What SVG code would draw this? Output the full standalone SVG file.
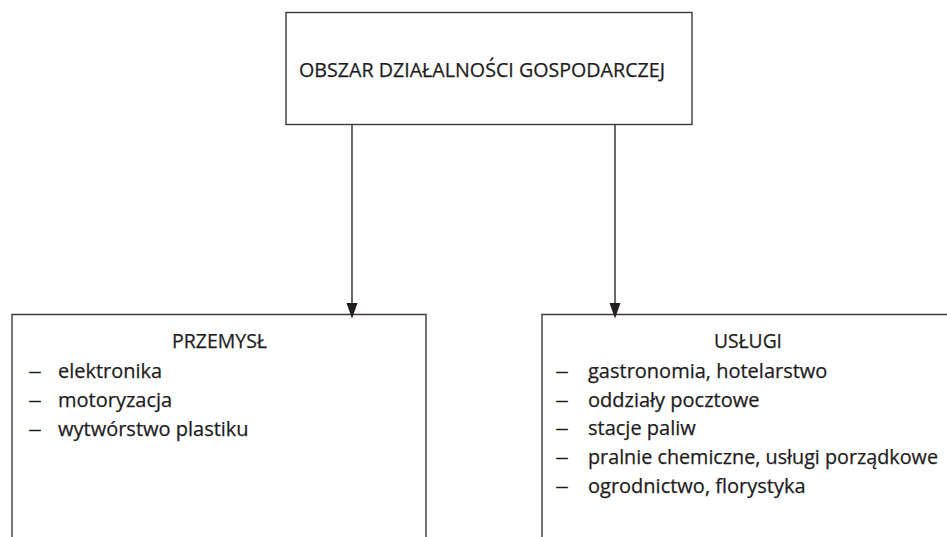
<svg xmlns="http://www.w3.org/2000/svg" width="947" height="537" viewBox="0 0 947 537">
<style>
.box{fill:#fff;stroke:#3a3a3a;stroke-width:1.4}
.t{font-family:"Open Sans","Noto Sans","Liberation Sans",sans-serif;font-size:20px;fill:#1e1c1d;stroke:#1e1c1d;stroke-width:0.25}
.d{font-family:"Open Sans","Noto Sans","Liberation Sans",sans-serif;font-size:20px;fill:#1e1c1d}
.c{stroke:#2a2a2a;stroke-width:1.4;fill:none}
.ah{fill:#231f20}
</style>
<rect width="947" height="537" fill="#fff"/>
<g id="top">
<rect class="box" x="286" y="12.5" width="406" height="112"/>
<text class="t" x="299" y="76.5" textLength="366" lengthAdjust="spacingAndGlyphs">OBSZAR DZIAŁALNOŚCI GOSPODARCZEJ</text>
</g>
<g id="przemysl">
<path class="box" d="M12,540 V314.5 H426 V540"/>
<text class="t" x="172" y="348" textLength="95" lengthAdjust="spacingAndGlyphs">PRZEMYSŁ</text>
<text class="d" x="28" y="378" textLength="14" lengthAdjust="spacingAndGlyphs">–</text>
<text class="t" x="58" y="378" textLength="104" lengthAdjust="spacingAndGlyphs">elektronika</text>
<text class="d" x="28" y="407" textLength="14" lengthAdjust="spacingAndGlyphs">–</text>
<text class="t" x="58" y="407">motoryzacja</text>
<text class="d" x="28" y="436" textLength="14" lengthAdjust="spacingAndGlyphs">–</text>
<text class="t" x="58" y="436">wytwórstwo plastiku</text>
</g>
<g id="uslugi">
<path class="box" d="M542,540 V314.5 H950"/>
<text class="t" x="714" y="348" textLength="68" lengthAdjust="spacingAndGlyphs">USŁUGI</text>
<text class="d" x="555" y="378" textLength="14" lengthAdjust="spacingAndGlyphs">–</text>
<text class="t" x="588" y="378">gastronomia, hotelarstwo</text>
<text class="d" x="555" y="407" textLength="14" lengthAdjust="spacingAndGlyphs">–</text>
<text class="t" x="588" y="407">oddziały pocztowe</text>
<text class="d" x="555" y="435" textLength="14" lengthAdjust="spacingAndGlyphs">–</text>
<text class="t" x="588" y="435">stacje paliw</text>
<text class="d" x="555" y="464" textLength="14" lengthAdjust="spacingAndGlyphs">–</text>
<text class="t" x="588" y="464" textLength="350" lengthAdjust="spacingAndGlyphs">pralnie chemiczne, usługi porządkowe</text>
<text class="d" x="555" y="493" textLength="14" lengthAdjust="spacingAndGlyphs">–</text>
<text class="t" x="588" y="493">ogrodnictwo, florystyka</text>
</g>
<g id="connectors">
<line class="c" x1="352" y1="124.5" x2="352" y2="305"/>
<polygon class="ah" points="346.5,303 357.5,303 352,318.5"/>
<line class="c" x1="615" y1="124.5" x2="615" y2="305"/>
<polygon class="ah" points="609.5,303 620.5,303 615,318.5"/>
</g>
</svg>
